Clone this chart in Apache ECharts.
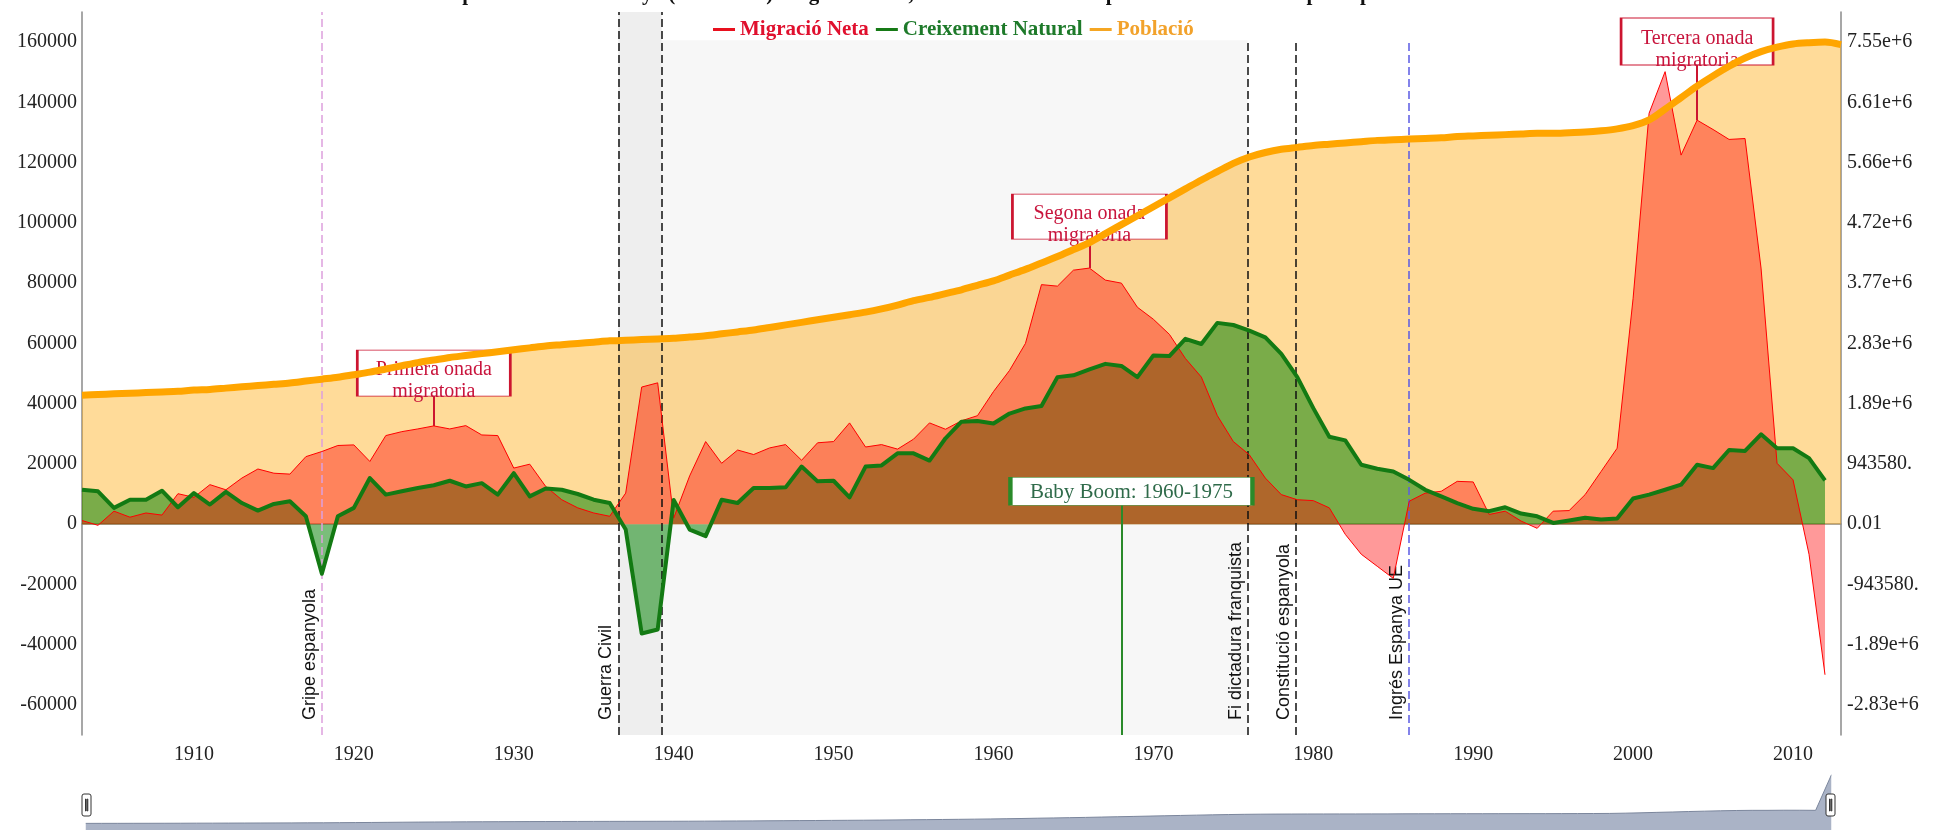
<!DOCTYPE html>
<html><head><meta charset="utf-8">
<script src="https://cdn.jsdelivr.net/npm/echarts@6/dist/echarts.min.js"></script>
<style>html,body{margin:0;padding:0;background:#fff;overflow:hidden}#c{width:1943px;height:830px}</style>
</head><body><div id="c"></div>
<script>
// ---- DATA ----
const years = [1903,1904,1905,1906,1907,1908,1909,1910,1911,1912,
1913,1914,1915,1916,1917,1918,1919,1920,1921,1922,
1923,1924,1925,1926,1927,1928,1929,1930,1931,1932,
1933,1934,1935,1936,1937,1938,1939,1940,1941,1942,
1943,1944,1945,1946,1947,1948,1949,1950,1951,1952,
1953,1954,1955,1956,1957,1958,1959,1960,1961,1962,
1963,1964,1965,1966,1967,1968,1969,1970,1971,1972,
1973,1974,1975,1976,1977,1978,1979,1980,1981,1982,
1983,1984,1985,1986,1987,1988,1989,1990,1991,1992,
1993,1994,1995,1996,1997,1998,1999,2000,2001,2002,
2003,2004,2005,2006,2007,2008,2009,2010,2011,2012,2013];

// Migració Neta (1903-2012)
const migracio = [1200,-400,4300,2300,3700,3000,10100,8900,13100,11400,
15300,18300,16900,16600,22400,24100,26100,26300,20800,29400,
30700,31600,32600,31600,32700,29600,29400,18600,19900,12500,
8100,5400,3700,2600,10300,45500,46900,2000,16000,27400,
20200,24600,23100,25300,26400,21200,27000,27400,33600,25600,
26400,24900,28200,33600,31500,34300,36000,44000,51000,60000,
79500,79000,84300,85000,81000,80000,72000,68000,63000,55000,
48800,36000,27400,23000,15300,9800,8100,7800,5400,-3400,
-10000,-14000,-18000,7600,10300,10900,14200,14000,3200,4300,
1000,-1400,4300,4500,9800,17500,25200,75000,136400,150200,
122500,134100,131000,127700,128000,85000,20200,14700,-10000,-50000];

// Creixement Natural (1903-2012)
const creixement = [11400,10900,5400,8100,8100,11100,5600,10300,6500,10700,
7000,4500,6700,7600,2600,-16500,2600,5400,15300,9800,
10900,12000,12900,14400,12500,13600,9800,16900,9200,11800,
11400,10000,8100,7000,-1800,-36300,-35000,8000,-1800,-4000,
8100,7000,12000,12000,12200,19100,14200,14400,8900,19100,
19500,23500,23500,21100,28500,34000,34200,33400,36700,38400,
39200,48800,49400,51400,53200,52500,48800,56000,55800,61500,
59800,66800,66100,64200,62000,56500,48800,38500,29000,27800,
19700,18400,17500,14700,11400,9200,7000,5100,4300,5600,
3500,2600,400,1200,2100,1500,1900,8500,9800,11400,
13100,19700,18600,24600,24300,29800,25200,25200,21900,14500];

// Població (1903-2013)
const poblacio = [2020000,2030000,2040000,2050000,2060000,2070000,2080000,2100000,2110000,2130000,
2150000,2170000,2190000,2210000,2240000,2270000,2300000,2340000,2380000,2430000,
2480000,2530000,2570000,2610000,2640000,2670000,2700000,2730000,2760000,2790000,
2810000,2830000,2850000,2870000,2880000,2890000,2900000,2910000,2930000,2950000,
2980000,3010000,3040000,3080000,3120000,3160000,3200000,3240000,3280000,3320000,
3370000,3430000,3500000,3550000,3610000,3670000,3740000,3810000,3900000,3990000,
4090000,4190000,4300000,4410000,4550000,4690000,4830000,4970000,5110000,5250000,
5390000,5520000,5650000,5750000,5820000,5870000,5900000,5930000,5950000,5970000,
5990000,6010000,6020000,6030000,6040000,6050000,6070000,6080000,6090000,6100000,
6110000,6120000,6120000,6130000,6140000,6160000,6190000,6240000,6330000,6500000,
6680000,6860000,7020000,7170000,7300000,7400000,7470000,7520000,7540000,7550000,
7510000];

const xTicks = [1910,1920,1930,1940,1950,1960,1970,1980,1990,2000,2010];
const leftTicks = [-60000,-40000,-20000,0,20000,40000,60000,80000,100000,120000,140000,160000];
const rightTickStep = 943580.3;
const rightTickLabels = ['-2.83e+6','-1.89e+6','-943580.3','0.01','943580.3','1.89e+6','2.83e+6','3.77e+6','4.72e+6','5.66e+6','6.61e+6','7.55e+6'];

const seriesNames = ['Migració Neta','Creixement Natural','Població'];

// historical events (decimal years)
const eventNames = ['Gripe espanyola','Guerra Civil','','Fi dictadura franquista','Constitució espanyola','Ingrés Espanya UE'];
const eventDates = [1918.0, 1936.54, 1939.25, 1975.89, 1978.93, 1986.0];
const periodStarts = [1936.54, 1939.25];
const periodEnds = [1939.25, 1975.89];

// annotations
const annoTexts = ['Primera onada\nmigratoria','Segona onada\nmigratoria','Tercera onada\nmigratoria','Baby Boom: 1960-1975'];
const annoYears = [1925, 1966, 2004, 1968];
const annoValues = [32600, 85000, 134100, -70000];
const annoBoxValues = [42500, 94600, 152400, 6300];

// ---- STYLE / LAYOUT ----
const Y_MIN = -70000, Y_MAX = 170000;
const RATIO = rightTickStep / 20000;
const serif = 'Liberation Serif';
const sans = 'Liberation Sans';
const eventStyle = [
  {color:'#DDA0DD', top:Y_MAX},
  {color:'#111', top:Y_MAX},
  {color:'#111', top:Y_MAX},
  {color:'#111', top:160600},
  {color:'#111', top:160600},
  {color:'#5B5BE3', top:160000}
];
const periodStyle = [
  {color:'#EEEEEE', top:Y_MAX},
  {color:'#F7F7F7', top:160600}
];
const annoStyle = [
  {w:153,h:46,dx:0,border:'#CC1530',text:'#C8143C',line:'#CC1530',offset:[0,8],size:20},
  {w:154,h:45,dx:0,border:'#CC1530',text:'#C8143C',line:'#CC1530',offset:[0,8],size:20},
  {w:152,h:47,dx:0,border:'#CC1530',text:'#C8143C',line:'#CC1530',offset:[0,8],size:20},
  {w:242,h:28,dx:10,border:'#2A8A2A',text:'#2F6B4A',line:'#2A8A2A',offset:[0,1],size:21}
];
const colors = {red:'#FF0000', green:'#137A13', orange:'#FFA500'};

// ---- BUILD ----
const migData = migracio.map((v,i)=>[years[i], v]);
const creData = creixement.map((v,i)=>[years[i], v]);
const popData = poblacio.map((v,i)=>[years[i], v]);
// range-selector shadow: combined mean of the series available each year
const shadowData = years.map((y,i)=>{
  const vals = [poblacio[i], migracio[i], creixement[i]].filter(v=>v!=null);
  return [y, vals.reduce((a,b)=>a+b,0)/vals.length];
});

const chart = echarts.init(document.getElementById('c'), null, {renderer:'canvas'});

const markLineData = eventDates.map((d,i)=>[
  {coord:[d, Y_MIN], lineStyle:{color:eventStyle[i].color, type:[8,4], width:1.5},
   label:{show: !!eventNames[i], formatter: eventNames[i], position:'insideStartTop', distance:[15,3],
          color:'#111', fontFamily:sans, fontSize:18}},
  {coord:[d, eventStyle[i].top]}
]);
const markAreaData = periodStarts.map((s,i)=>[
  {coord:[s, periodStyle[i].top], itemStyle:{color:periodStyle[i].color}},
  {coord:[periodEnds[i], Y_MIN]}
]);

const annoLines = annoYears.map((y,i)=>[
  {coord:[y, annoValues[i]], lineStyle:{color:annoStyle[i].line, width:2, type:'solid'}},
  {coord:[y, annoBoxValues[i]]}
]);
const annoPoints = annoYears.map((y,i)=>({
  coord:[y, annoBoxValues[i]],
  symbol:'rect', symbolSize:[annoStyle[i].w, annoStyle[i].h], symbolOffset:[annoStyle[i].dx,'-50%'],
  itemStyle:{color:'#fff', borderColor:annoStyle[i].border, borderWidth:1.5},
  label:{show:true, position:'inside', formatter:annoTexts[i], color:annoStyle[i].text,
         fontFamily:serif, fontSize:annoStyle[i].size, lineHeight:22, offset:annoStyle[i].offset, align:'center'}
}));

const option = {
  animation:false,
  backgroundColor:'#fff',
  title:{
    text:'Evolució de la població de Catalunya (1903-2013): migració neta, creixement natural i població total amb els principals esdeveniments històrics',
    left:'center', top:-21,
    textStyle:{fontFamily:serif, fontSize:21, fontWeight:'bold', color:'#111'}
  },
  legend:{
    left:708, top:14, icon:'rect', itemWidth:22, itemHeight:3, itemGap:7, selectedMode:false,
    data:[
      {name:seriesNames[0], itemStyle:{color:'#E8101E'}, textStyle:{color:'#E0102E'}},
      {name:seriesNames[1], itemStyle:{color:'#167A16'}, textStyle:{color:'#1E7A2A'}},
      {name:seriesNames[2], itemStyle:{color:'#F5A623'}, textStyle:{color:'#F2A22B'}}
    ],
    textStyle:{fontFamily:serif, fontSize:21, fontWeight:'bold'}
  },
  grid:{left:82, right:102, top:12, bottom:95, outerBoundsMode:'none', containLabel:false},
  xAxis:{
    type:'value', min:1903, max:2013,
    axisLine:{show:true, lineStyle:{color:'#8a8a8a', width:1.5}},
    axisTick:{show:false}, splitLine:{show:false},
    axisLabel:{customValues:xTicks, fontFamily:serif, fontSize:20, color:'#222', margin:10,
               formatter:(v)=>String(v)}
  },
  yAxis:[
    {type:'value', position:'left', min:Y_MIN, max:Y_MAX,
     axisLine:{show:true, lineStyle:{color:'#8a8a8a', width:1.5}},
     axisTick:{show:false}, splitLine:{show:false},
     axisLabel:{customValues:leftTicks, fontFamily:serif, fontSize:20, color:'#222', margin:5,
                formatter:(v)=>String(v)}},
    {type:'value', position:'right', min:Y_MIN*RATIO, max:Y_MAX*RATIO,
     axisLine:{show:true, lineStyle:{color:'#8a8a8a', width:1.5}},
     axisTick:{show:false}, splitLine:{show:false},
     axisLabel:{customValues:rightTickLabels.map((_,i)=>(i-3)*rightTickStep),
                fontFamily:serif, fontSize:20, color:'#222', margin:6,
                width:75, overflow:'truncate', ellipsis:'',
                formatter:(v)=>rightTickLabels[Math.round(v/rightTickStep)+3]}},
    {type:'value', show:false, scale:true}
  ],
  dataZoom:[{
    type:'slider', xAxisIndex:0, filterMode:'none', start:0, end:100,
    left:83, right:114, top:760, height:78,
    showDetail:false, brushSelect:false, moveHandleSize:0,
    backgroundColor:'rgba(0,0,0,0)', borderColor:'rgba(0,0,0,0)', fillerColor:'rgba(0,0,0,0)',
    handleIcon:'path://M4.5,34h0.001M2,0h5a2,2,0,0,1,2,2v18a2,2,0,0,1-2,2h-5a2,2,0,0,1-2-2v-18a2,2,0,0,1,2-2zM3.5,5h0.6v12h-0.6zM5.2,5h0.6v12h-0.6z',
    handleSize:34,
    handleStyle:{color:'#fff', borderColor:'#333', borderWidth:1},
    emphasis:{handleStyle:{color:'#fff', borderColor:'#333', borderWidth:1}},
    dataBackground:{lineStyle:{color:'#7b869c', width:1, opacity:1}, areaStyle:{color:'#aab3c6', opacity:1}},
    selectedDataBackground:{lineStyle:{color:'#7b869c', width:1, opacity:1}, areaStyle:{color:'#aab3c6', opacity:1}}
  }],
  series:[
    {name:'_shadow', type:'line', xAxisIndex:0, yAxisIndex:2, data:shadowData, showSymbol:false,
     lineStyle:{opacity:0}, silent:true, z:0, tooltip:{show:false}},
    {name:'_underlay', type:'line', xAxisIndex:0, yAxisIndex:0, data:[], silent:true, z:1,
     markArea:{silent:true, data:markAreaData},
     markLine:{silent:true, symbol:['none','none'], data:markLineData}},
    {name:seriesNames[2], type:'line', yAxisIndex:1, data:popData, smooth:0.3, showSymbol:false, z:2,
     lineStyle:{opacity:0}, areaStyle:{color:'rgba(255,165,0,0.4)', opacity:1}},
    {name:seriesNames[1], type:'line', yAxisIndex:0, data:creData, showSymbol:false, z:3,
     lineStyle:{opacity:0}, areaStyle:{color:'rgba(0,128,0,0.52)', opacity:1}},
    {name:seriesNames[0], type:'line', yAxisIndex:0, data:migData, showSymbol:false, z:4,
     lineStyle:{opacity:0}, areaStyle:{color:'rgba(255,0,0,0.4)', opacity:1}},
    {name:seriesNames[0], type:'line', yAxisIndex:0, data:migData, showSymbol:false, z:5,
     lineStyle:{color:colors.red, width:1}, itemStyle:{color:colors.red}},
    {name:seriesNames[1], type:'line', yAxisIndex:0, data:creData, showSymbol:false, z:6,
     lineStyle:{color:colors.green, width:4, join:'round'}, itemStyle:{color:colors.green}},
    {name:seriesNames[2], type:'line', yAxisIndex:1, data:popData, smooth:0.3, showSymbol:false, z:7,
     lineStyle:{color:colors.orange, width:7}, itemStyle:{color:colors.orange}},
    {name:'_annotations', type:'line', xAxisIndex:0, yAxisIndex:0, data:[], silent:true, z:10,
     markLine:{silent:true, symbol:['none','none'], label:{show:false}, data:annoLines},
     markPoint:{silent:true, data:annoPoints}}
  ]
};
chart.setOption(option);
</script>
</body></html>
